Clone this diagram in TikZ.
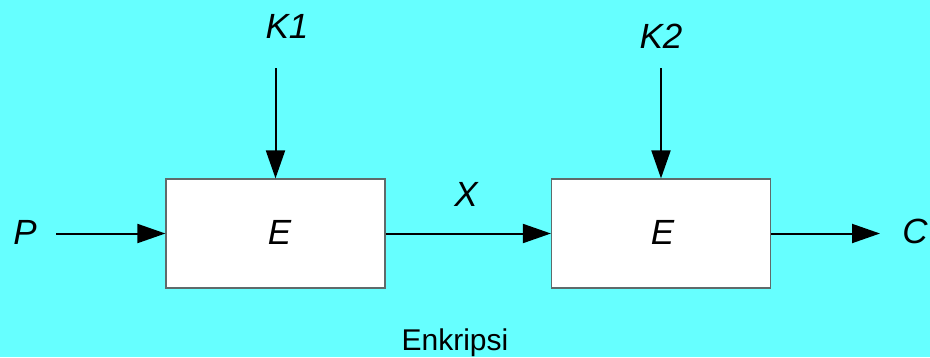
\documentclass[tikz,border=0pt]{standalone}
\usepackage{fontspec}
\setmainfont{Liberation Sans}
\usetikzlibrary{arrows.meta}
\definecolor{bgcyan}{HTML}{66FFFF}
\definecolor{boxline}{HTML}{5F6B6B}
\tikzset{
  blockbox/.style={draw=boxline, line width=1.2pt, fill=white, minimum width=219pt, minimum height=109pt, inner sep=0pt},
  lbl/.style={inner sep=0pt, anchor=base, font=\fontsize{35}{40}\selectfont\itshape},
  captiontext/.style={inner sep=0pt, anchor=base, font=\fontsize{30}{35}\selectfont},
  flow/.style={line width=2pt, -{Triangle[length=28pt,width=19pt]}}
}
\begin{document}
\begin{tikzpicture}[x=1pt,y=-1pt]
\fill[bgcyan] (0,0) rectangle (930,357);
\useasboundingbox (0,0) rectangle (930,357);
\node[blockbox] (b1) at (275.5,233.5) {};
\node[blockbox] (b2) at (661,233.5) {};
\node[lbl] (e1) at (279.5,244) {E};
\node[lbl] (e2) at (662.5,244) {E};
\node[lbl] (k1) at (287,38) {K1};
\node[lbl] (k2) at (661,48) {K2};
\node[lbl] (p) at (25,244) {P};
\node[lbl] (c) at (915,243) {C};
\node[lbl] (x) at (466,206) {X};
\node[captiontext] (enc) at (455,350) {Enkripsi};
\coordinate (pin) at (56,233.5);
\coordinate (cout) at (880,233.5);
\coordinate (k1top) at (275.5,68);
\coordinate (k2top) at (661,68);
\draw[flow] (pin) -- (b1.west);
\draw[flow] (b1.east) -- (b2.west);
\draw[flow] (b2.east) -- (cout);
\draw[flow] (k1top) -- (b1.north);
\draw[flow] (k2top) -- (b2.north);
\end{tikzpicture}
\end{document}
